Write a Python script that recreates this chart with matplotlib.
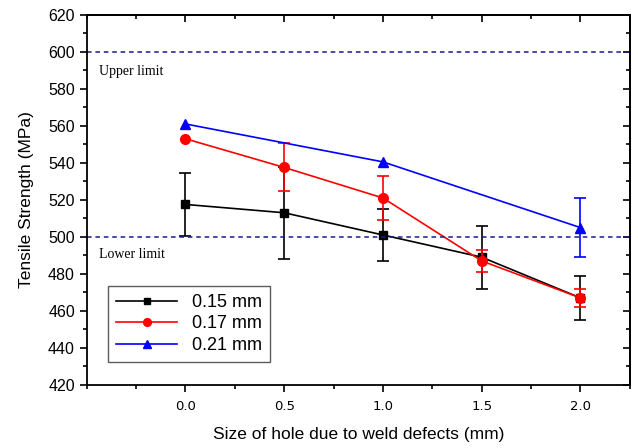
import numpy as np
import matplotlib.pyplot as plt
from matplotlib.ticker import MultipleLocator

plt.rcParams["font.family"] = ["Liberation Sans", "DejaVu Sans"]

# data
hole = [0.0, 0.5, 1.0, 1.5, 2.0]
ts_015 = [517.5, 513, 501, 489, 467]
err_015 = [17, 25, 14, 17, 12]
ts_017 = [553, 537.5, 521, 487, 467]
err_017 = [0, 13, 12, 6, 5]
hole_021 = [0.0, 1.0, 2.0]
ts_021 = [561, 540.5, 505]
err_021 = [0, 0, 16]

upper_limit = 600
lower_limit = 500

fig = plt.figure(figsize=(6.38, 4.48), dpi=100)
ax = fig.add_axes([0.136, 0.141, 0.851, 0.826])

series = [
    (hole, ts_015, err_015, 'k', 's', 6, '0.15 mm'),
    (hole, ts_017, err_017, 'red', 'o', 7, '0.17 mm'),
    (hole_021, ts_021, err_021, 'blue', '^', 7, '0.21 mm'),
]
for x, y, e, c, m, ms, lab in series:
    ax.plot(x, y, color=c, marker=m, ms=ms, lw=1.2, label=lab)
    # error bars only where an error was drawn
    xe = [a for a, b in zip(x, e) if b > 0]
    ye = [a for a, b in zip(y, e) if b > 0]
    ee = [b for b in e if b > 0]
    ax.errorbar(xe, ye, yerr=ee, fmt='none', ecolor=c, capsize=4,
                elinewidth=1.2, capthick=1.2)

ax.axhline(upper_limit, color='#1a1a8c', ls=(0, (3, 2.5)), lw=1.1)
ax.axhline(lower_limit, color='#1a1a8c', ls=(0, (3, 2.5)), lw=1.1)
ax.text(-0.44, 593, 'Upper limit', family='Liberation Serif', fontsize=10, va='top')
ax.text(-0.44, 494, 'Lower limit', family='Liberation Serif', fontsize=10, va='top')

ax.set_xlim(-0.5, 2.25)
ax.set_ylim(420, 620)
ax.set_xticks(hole)
ax.set_xticklabels(['0.0', '0.5', '1.0', '1.5', '2.0'], family='DejaVu Sans', fontsize=9.5)
ax.xaxis.set_minor_locator(MultipleLocator(0.25))
ax.yaxis.set_major_locator(MultipleLocator(20))
ax.yaxis.set_minor_locator(MultipleLocator(10))
ax.tick_params(axis='y', labelsize=11.5)
ax.tick_params(axis='x', pad=6)
ax.tick_params(which='both', direction='out', width=1.2)
ax.tick_params(which='major', length=5)
ax.tick_params(which='minor', length=3)
for s in ax.spines.values():
    s.set_linewidth(1.3)

# top/right ticks point inward
top = ax.secondary_xaxis('top')
top.set_xticks(hole)
top.xaxis.set_minor_locator(MultipleLocator(0.25))
top.tick_params(which='both', direction='in', width=1.2, labeltop=False)
top.tick_params(which='major', length=5)
top.tick_params(which='minor', length=3)
right = ax.secondary_yaxis('right')
right.yaxis.set_major_locator(MultipleLocator(20))
right.yaxis.set_minor_locator(MultipleLocator(10))
right.tick_params(which='both', direction='in', width=1.2, labelright=False)
right.tick_params(which='major', length=5)
right.tick_params(which='minor', length=3)
for s in list(top.spines.values()) + list(right.spines.values()):
    s.set_linewidth(1.3)

ax.set_xlabel('Size of hole due to weld defects (mm)', fontsize=12.5, labelpad=10)
ax.set_ylabel('Tensile Strength (MPa)', fontsize=12.5, labelpad=10)

leg = ax.legend(loc='lower left', bbox_to_anchor=(0.022, 0.037), fontsize=13,
                fancybox=False, edgecolor='#333333', handlelength=3.4,
                borderpad=0.45, labelspacing=0.25, markerscale=0.8)
leg.get_frame().set_linewidth(1.0)

plt.savefig('out.png', dpi=100)
